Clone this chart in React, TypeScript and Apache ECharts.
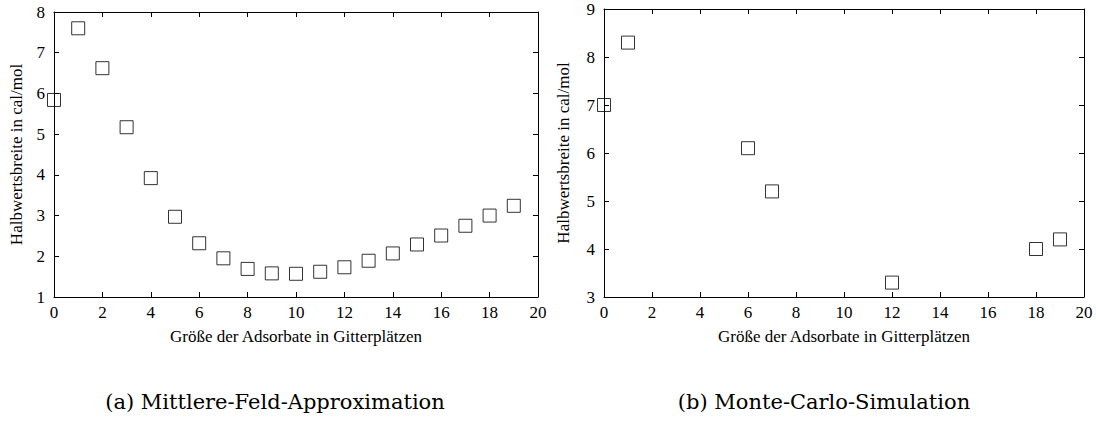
import React, { useEffect, useRef } from "react";
import * as echarts from "echarts";

const xValuesA = [0, 1, 2, 3, 4, 5, 6, 7, 8, 9, 10, 11, 12, 13, 14, 15, 16, 17, 18, 19];
const yValuesA = [5.84, 7.6, 6.62, 5.17, 3.92, 2.97, 2.32, 1.95, 1.69, 1.58, 1.57, 1.62, 1.73, 1.89, 2.07, 2.29, 2.51, 2.75, 3.0, 3.24];
const xValuesB = [0, 1, 6, 7, 12, 18, 19];
const yValuesB = [7.0, 8.3, 6.1, 5.2, 3.3, 4.0, 4.2];

const xAxisName = "Größe der Adsorbate in Gitterplätzen";
const yAxisName = "Halbwertsbreite in cal/mol";
const captionA = "(a) Mittlere-Feld-Approximation";
const captionB = "(b) Monte-Carlo-Simulation";

const FONT = "Liberation Serif";
const CAPTION_FONT = "DejaVu Serif";

export default function App() {
  const ref = useRef<HTMLDivElement>(null);
  useEffect(() => {
    if (!ref.current) return;
    const chart = echarts.init(ref.current, null, { renderer: "svg" });
    const lineStyle = { color: "#000", width: 1 };
    const tick = { show: true, inside: true, length: 5, lineStyle };
    const mkX = (gridIndex: number, position: "bottom" | "top", labels: boolean) => ({
      type: "value",
      gridIndex,
      position,
      min: 0,
      max: 20,
      interval: 2,
      axisLine: { show: true, lineStyle, onZero: false },
      axisTick: tick,
      splitLine: { show: false },
      axisLabel: labels
        ? { show: true, color: "#000", fontFamily: FONT, fontSize: 17, margin: 7 }
        : { show: false },
      name: labels ? xAxisName : "",
      nameLocation: "middle",
      nameGap: 31,
      nameTextStyle: { color: "#000", fontFamily: FONT, fontSize: 17 },
    });
    const mkY = (
      gridIndex: number,
      position: "left" | "right",
      labels: boolean,
      min: number,
      max: number,
      gap: number
    ) => ({
      type: "value",
      gridIndex,
      position,
      min,
      max,
      interval: 1,
      axisLine: { show: true, lineStyle, onZero: false },
      axisTick: tick,
      splitLine: { show: false },
      axisLabel: labels
        ? { show: true, color: "#000", fontFamily: FONT, fontSize: 17, margin: 9 }
        : { show: false },
      name: labels ? yAxisName : "",
      nameLocation: "middle",
      nameGap: gap,
      nameRotate: 90,
      nameTextStyle: { color: "#000", fontFamily: FONT, fontSize: 17 },
    });
    const marker = {
      symbol: "rect",
      symbolSize: 13,
      itemStyle: { color: "rgba(0,0,0,0)", borderColor: "#000", borderWidth: 1 },
      clip: false,
    };
    chart.setOption({
      animation: false,
      backgroundColor: "#fff",
      grid: [
        { left: 54, top: 12, width: 484, height: 285 },
        { left: 604, top: 9, width: 480, height: 288 },
      ],
      xAxis: [mkX(0, "bottom", true), mkX(0, "top", false), mkX(1, "bottom", true), mkX(1, "top", false)],
      yAxis: [
        mkY(0, "left", true, 1, 8, 29),
        mkY(0, "right", false, 1, 8, 0),
        mkY(1, "left", true, 3, 9, 32),
        mkY(1, "right", false, 3, 9, 0),
      ],
      title: [
        {
          text: captionA,
          left: 275,
          top: 391,
          textAlign: "center",
          textStyle: { color: "#000", fontFamily: CAPTION_FONT, fontSize: 21, fontWeight: "normal" },
          padding: 0,
        },
        {
          text: captionB,
          left: 824,
          top: 391,
          textAlign: "center",
          textStyle: { color: "#000", fontFamily: CAPTION_FONT, fontSize: 21, fontWeight: "normal" },
          padding: 0,
        },
      ],
      series: [
        {
          type: "scatter",
          xAxisIndex: 0,
          yAxisIndex: 0,
          data: xValuesA.map((x, i) => [x, yValuesA[i]]),
          ...marker,
        },
        {
          type: "scatter",
          xAxisIndex: 2,
          yAxisIndex: 2,
          data: xValuesB.map((x, i) => [x, yValuesB[i]]),
          ...marker,
        },
      ],
    });
    return () => chart.dispose();
  }, []);
  return (
    <div
      ref={ref}
      style={{ position: "absolute", left: 0, top: 0, width: 1096, height: 423 }}
    />
  );
}
